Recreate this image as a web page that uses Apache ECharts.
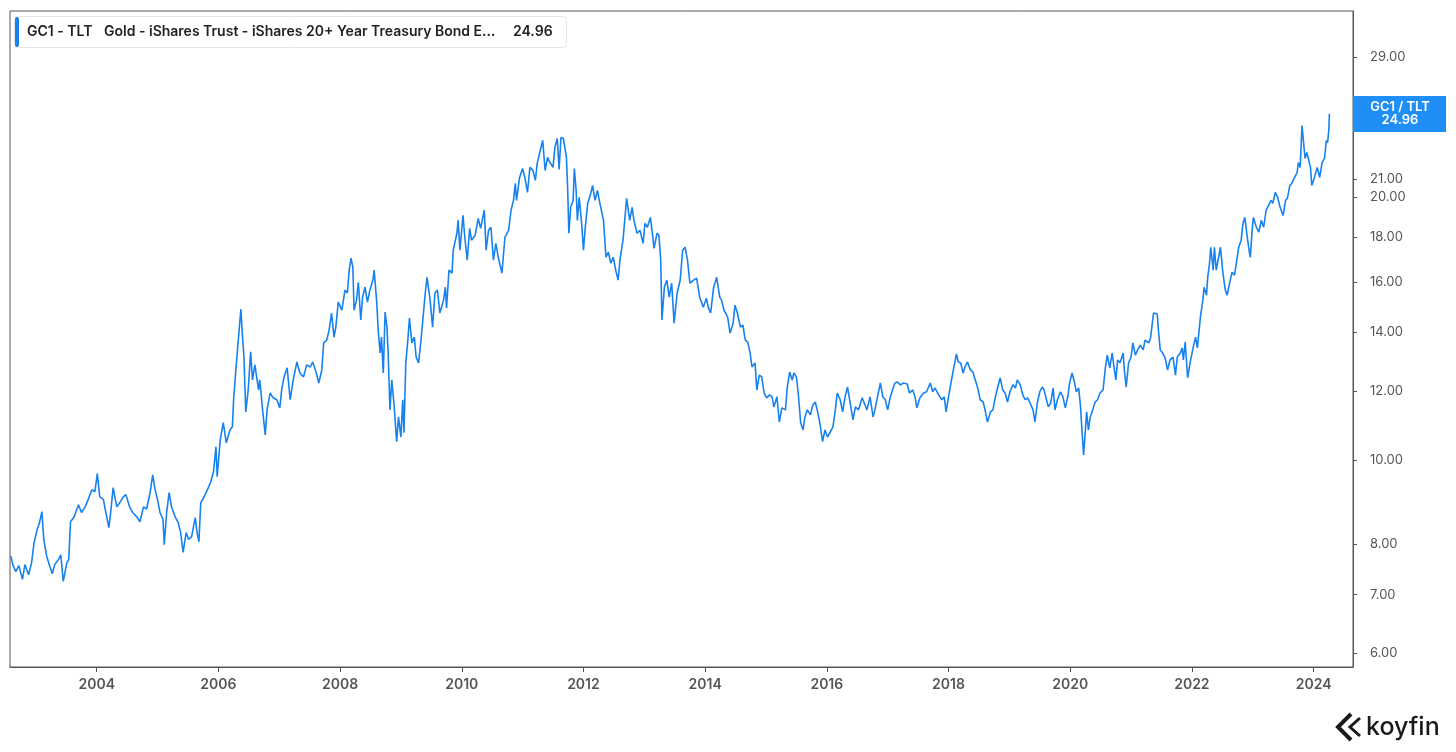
<!DOCTYPE html>
<html><head><meta charset="utf-8">
<script src="https://cdn.jsdelivr.net/npm/echarts@6/dist/echarts.min.js"></script>
<style>html,body{margin:0;padding:0;background:#fff}#c{width:1456px;height:752px}</style>
</head><body><div id="c"></div>
<script>
// decimal years
const dates = [2002.59,2002.62,2002.67,2002.72,2002.78,2002.82,2002.88,2002.93,2002.97,2003.02,2003.06,2003.10,2003.13,2003.18,2003.23,2003.27,2003.31,2003.37,2003.41,2003.45,2003.48,2003.51,2003.54,2003.57,2003.63,2003.70,2003.75,2003.81,2003.86,2003.92,2003.97,
2004.01,2004.05,2004.11,2004.15,2004.20,2004.23,2004.27,2004.33,2004.38,2004.44,2004.48,2004.54,2004.59,2004.66,2004.71,2004.77,2004.82,2004.88,2004.92,2004.96,
2005.00,2005.04,2005.09,2005.11,2005.15,2005.19,2005.23,2005.29,2005.34,2005.38,2005.42,2005.47,2005.51,2005.56,2005.62,2005.65,2005.68,2005.71,2005.76,2005.82,2005.87,2005.92,2005.96,2005.98,
2006.03,2006.08,2006.13,2006.19,2006.23,2006.25,2006.30,2006.37,2006.40,2006.42,2006.45,2006.49,2006.53,2006.56,2006.60,2006.66,2006.68,2006.73,2006.77,2006.80,2006.85,2006.90,2006.96,
2007.01,2007.04,2007.08,2007.13,2007.18,2007.23,2007.29,2007.34,2007.40,2007.45,2007.51,2007.55,2007.61,2007.65,2007.70,2007.73,2007.78,2007.82,2007.86,2007.90,2007.93,2007.97,
2008.03,2008.08,2008.12,2008.15,2008.18,2008.21,2008.23,2008.27,2008.30,2008.34,2008.37,2008.41,2008.45,2008.49,2008.54,2008.56,2008.60,2008.63,2008.66,2008.68,2008.71,2008.74,2008.77,2008.79,2008.82,2008.85,2008.89,2008.93,2008.96,
2009.00,2009.03,2009.05,2009.08,2009.11,2009.14,2009.18,2009.22,2009.25,2009.29,2009.33,2009.36,2009.40,2009.43,2009.48,2009.52,2009.56,2009.60,2009.64,2009.70,2009.73,2009.75,2009.79,2009.84,2009.86,2009.92,2009.94,2009.97,
2010.02,2010.05,2010.09,2010.13,2010.16,2010.22,2010.27,2010.31,2010.37,2010.40,2010.44,2010.48,2010.52,2010.56,2010.60,2010.66,2010.71,2010.77,2010.81,2010.85,2010.88,2010.90,2010.95,
2011.00,2011.04,2011.08,2011.12,2011.17,2011.21,2011.24,2011.29,2011.33,2011.37,2011.41,2011.45,2011.50,2011.53,2011.57,2011.60,2011.63,2011.67,2011.72,2011.74,2011.76,2011.79,2011.83,2011.85,2011.88,2011.90,2011.93,2011.97,
2012.00,2012.03,2012.07,2012.12,2012.15,2012.19,2012.23,2012.27,2012.33,2012.37,2012.41,2012.45,2012.49,2012.53,2012.57,2012.60,2012.65,2012.68,2012.71,2012.76,2012.80,2012.83,2012.88,2012.93,2012.98,
2013.01,2013.05,2013.10,2013.14,2013.16,2013.21,2013.24,2013.27,2013.29,2013.33,2013.37,2013.41,2013.45,2013.49,2013.54,2013.59,2013.63,2013.67,2013.71,2013.75,2013.81,2013.86,2013.91,2013.97,
2014.02,2014.05,2014.09,2014.14,2014.19,2014.24,2014.27,2014.31,2014.37,2014.41,2014.46,2014.49,2014.53,2014.58,2014.62,2014.66,2014.70,2014.74,2014.77,2014.82,2014.85,2014.89,2014.93,2014.97,
2015.01,2015.06,2015.10,2015.13,2015.18,2015.22,2015.26,2015.32,2015.35,2015.39,2015.43,2015.46,2015.50,2015.53,2015.57,2015.61,2015.64,2015.68,2015.73,2015.77,2015.81,2015.85,2015.89,2015.93,2015.97,
2016.01,2016.05,2016.10,2016.14,2016.17,2016.22,2016.26,2016.30,2016.34,2016.37,2016.43,2016.47,2016.52,2016.58,2016.61,2016.66,2016.71,2016.76,2016.79,2016.83,2016.88,2016.92,2016.96,
2017.00,2017.04,2017.09,2017.12,2017.16,2017.21,2017.26,2017.32,2017.36,2017.41,2017.45,2017.48,2017.53,2017.59,2017.64,2017.70,2017.74,2017.78,2017.82,2017.86,2017.89,2017.93,2017.96,
2018.00,2018.04,2018.08,2018.13,2018.16,2018.20,2018.24,2018.27,2018.31,2018.36,2018.40,2018.44,2018.48,2018.52,2018.57,2018.60,2018.64,2018.69,2018.73,2018.77,2018.81,2018.85,2018.89,2018.93,2018.97,
2019.01,2019.06,2019.10,2019.13,2019.18,2019.22,2019.26,2019.30,2019.34,2019.39,2019.42,2019.46,2019.50,2019.54,2019.57,2019.61,2019.64,2019.68,2019.72,2019.75,2019.79,2019.84,2019.88,2019.92,2019.96,2019.99,
2020.03,2020.07,2020.10,2020.14,2020.17,2020.19,2020.22,2020.25,2020.27,2020.30,2020.33,2020.37,2020.41,2020.45,2020.49,2020.54,2020.58,2020.61,2020.65,2020.69,2020.72,2020.75,2020.78,2020.82,2020.87,2020.89,2020.92,2020.96,
2021.00,2021.03,2021.07,2021.11,2021.15,2021.20,2021.23,2021.29,2021.32,2021.37,2021.43,2021.45,2021.48,2021.52,2021.56,2021.60,2021.64,2021.69,2021.73,2021.76,2021.81,2021.84,2021.86,2021.89,2021.93,2021.97,
2022.02,2022.06,2022.09,2022.14,2022.18,2022.20,2022.24,2022.26,2022.29,2022.31,2022.35,2022.37,2022.40,2022.44,2022.47,2022.51,2022.55,2022.58,2022.62,2022.66,2022.70,2022.73,2022.77,2022.81,2022.84,2022.87,2022.91,2022.94,2022.96,2022.99,
2023.01,2023.06,2023.10,2023.14,2023.18,2023.22,2023.26,2023.30,2023.33,2023.37,2023.41,2023.45,2023.50,2023.54,2023.57,2023.61,2023.64,2023.68,2023.73,2023.75,2023.78,2023.81,2023.84,2023.86,2023.89,2023.92,2023.95,2023.97,
2024.01,2024.06,2024.10,2024.14,2024.18,2024.21,2024.23,2024.25,2024.26];

// GC1 / TLT ratio
const gc1Tlt = [7.75,7.58,7.44,7.56,7.29,7.58,7.38,7.62,8.03,8.31,8.47,8.72,8.10,7.74,7.54,7.40,7.58,7.68,7.78,7.25,7.23,7.62,7.68,8.49,8.60,8.88,8.70,8.83,9.00,9.24,9.19,
9.64,9.07,9.00,8.70,8.36,8.70,9.29,8.83,8.93,9.07,9.12,8.83,8.70,8.60,8.49,8.83,8.78,9.19,9.61,9.24,
9.00,8.70,8.54,7.99,8.70,9.17,8.83,8.60,8.47,8.25,7.83,8.25,8.10,8.16,8.58,8.25,8.05,8.93,9.05,9.24,9.41,9.69,10.35,9.56,
10.54,11.03,10.46,10.82,10.91,11.72,13.02,14.89,13.72,13.12,11.35,12.03,13.30,12.35,12.85,12.03,12.35,11.35,10.68,11.41,11.93,11.78,11.72,
11.47,12.03,12.45,12.75,11.72,12.35,12.95,12.58,12.45,12.85,12.78,12.95,12.58,12.25,12.68,13.62,13.72,14.09,14.74,13.83,14.20,15.17,
14.85,15.66,15.54,16.51,17.04,16.64,14.85,15.25,15.99,14.47,15.37,15.78,15.17,15.66,16.08,16.51,15.25,13.98,13.26,13.83,12.58,14.78,14.20,13.26,11.41,12.35,11.50,10.49,11.20,
10.62,11.72,10.74,12.92,13.62,14.54,13.62,13.83,13.12,12.92,13.72,14.47,15.54,16.20,15.25,14.20,15.54,15.66,14.74,15.25,15.78,14.93,16.51,16.38,17.40,18.20,18.83,17.40,
19.08,18.01,16.95,18.44,17.87,18.10,18.93,18.44,19.34,17.40,18.34,18.49,16.95,17.72,17.08,16.38,18.01,18.34,19.34,19.85,20.76,19.85,21.09,
21.60,21.04,20.28,21.66,21.49,20.93,21.89,22.65,23.26,21.49,22.24,21.94,21.66,22.83,23.38,21.54,23.44,23.38,22.24,20.54,18.20,19.49,19.85,21.60,20.38,18.83,20.01,18.68,
17.40,18.49,19.70,20.22,20.65,19.85,20.38,19.70,18.83,17.08,17.31,16.81,17.08,16.51,16.08,16.95,17.87,17.80,19.96,18.83,19.49,18.83,18.20,18.34,17.72,
18.68,18.49,18.98,18.01,17.49,18.20,18.10,16.95,14.47,15.78,16.08,15.37,15.95,14.35,15.54,16.08,17.40,17.54,16.95,15.95,16.08,16.16,15.37,14.97,
15.33,14.97,14.74,15.78,16.20,15.37,15.25,14.85,14.58,13.98,14.35,15.05,14.74,14.20,14.28,13.72,13.65,13.26,12.78,12.92,12.03,12.51,12.45,11.93,
11.78,11.87,11.81,11.50,11.81,11.05,11.47,11.41,12.12,12.61,12.35,12.58,12.45,11.93,11.03,10.82,11.20,11.41,11.26,11.56,11.65,11.35,10.97,10.49,10.82,
10.62,10.74,10.91,11.41,11.93,11.72,11.35,11.81,12.12,11.78,11.11,11.50,11.41,11.78,11.81,11.41,11.81,11.20,11.41,11.78,12.25,11.81,11.72,
11.41,11.78,12.09,12.25,12.28,12.19,12.25,12.22,11.93,12.03,11.81,11.47,11.78,11.93,11.97,12.25,11.97,12.09,11.93,11.81,11.72,11.81,11.35,
11.81,12.25,12.68,13.23,12.95,12.92,12.58,12.78,12.95,12.68,12.61,12.35,12.09,11.72,11.65,11.41,11.05,11.35,11.41,11.81,12.12,12.42,12.03,11.93,11.65,
11.97,12.19,12.09,12.35,12.19,11.87,11.72,11.78,11.62,11.41,11.05,11.62,11.97,12.12,12.03,11.72,11.50,11.62,12.09,11.41,11.72,11.97,11.81,11.47,11.81,12.25,
12.58,12.28,11.97,12.09,11.50,10.91,10.13,10.82,11.35,10.82,11.20,11.41,11.65,11.72,11.93,12.03,12.78,13.19,12.75,13.26,12.78,12.35,13.02,12.92,13.26,12.68,12.12,12.92,
13.12,13.62,13.19,13.37,13.54,13.37,13.72,13.62,13.79,14.74,14.70,14.09,13.37,13.26,13.09,12.68,13.02,13.12,12.51,13.12,13.26,13.44,13.02,13.65,12.42,12.92,
13.44,13.83,13.44,14.58,15.25,15.78,15.45,16.20,16.81,17.54,16.51,17.54,16.51,17.08,17.54,16.38,15.66,15.45,15.95,16.42,16.29,16.81,17.54,17.87,18.68,18.98,18.01,17.40,17.08,18.34,
18.98,18.49,18.25,18.83,18.49,19.34,19.59,19.85,19.70,20.28,20.01,19.49,19.08,19.85,19.96,20.65,20.76,21.04,21.37,21.94,21.66,24.19,24.07,22.18,22.53,22.45,21.66,20.65,
21.04,21.66,21.09,21.94,22.18,23.26,23.13,23.88,24.96];

const xTicks = [2004,2006,2008,2010,2012,2014,2016,2018,2020,2022,2024];
const yTicks = [6,7,8,10,12,14,16,18,20,21,29];
const seriesCode = 'GC1 - TLT';
const seriesName = 'Gold - iShares Trust - iShares 20+ Year Treasury Bond E\u2026';
const lastLabel = 'GC1 / TLT';
const brand = 'koyfin';

const BLUE = '#1782ee';
const FONT = 'Inter, "Noto Sans", sans-serif';
const xMin = 2002.575, xMax = 2024.648;
const yMinLn = 1.7548, yMaxLn = 3.4889;

const lastV = gc1Tlt[gc1Tlt.length - 1];

const chart = echarts.init(document.getElementById('c'), null, {renderer: 'canvas'});
chart.setOption({
  animation: false,
  backgroundColor: '#fff',
  grid: {left: 10, right: 103, top: 11, bottom: 85, show: true, borderColor: '#555', borderWidth: 1},
  xAxis: {
    type: 'value', min: xMin, max: xMax,
    axisLine: {show: true, lineStyle: {color: '#555', width: 1}},
    axisTick: {show: true, customValues: xTicks, length: 5, lineStyle: {color: '#555'}},
    axisLabel: {customValues: xTicks, formatter: v => String(Math.round(v)), color: '#555', fontSize: 14, fontWeight: 600, fontFamily: FONT, margin: 11},
    splitLine: {show: false}
  },
  yAxis: {
    type: 'value', position: 'right', min: yMinLn, max: yMaxLn,
    axisLine: {show: true, lineStyle: {color: '#555', width: 1}},
    axisTick: {show: true, customValues: yTicks.map(Math.log), length: 4, lineStyle: {color: '#555'}},
    axisLabel: {customValues: yTicks.map(Math.log), formatter: v => Math.exp(v).toFixed(2), color: '#555', fontSize: 13, fontFamily: FONT, margin: 17},
    splitLine: {show: false}
  },
  series: [{
    type: 'line',
    data: dates.map((d, i) => [d, Math.log(gc1Tlt[i])]),
    showSymbol: false,
    lineStyle: {color: BLUE, width: 1.6},
    itemStyle: {color: BLUE}
  }]
});

const p = chart.convertToPixel({xAxisIndex: 0, yAxisIndex: 0}, [xMax, Math.log(lastV)]);
const boxX = Math.round(p[0]);
const boxY = Math.round(p[1]);

chart.setOption({
  graphic: [
    {type: 'rect', shape: {x: 14.5, y: 16.5, width: 552, height: 31, r: 4}, style: {fill: '#fff', stroke: '#e4e4e4', lineWidth: 1}, z: 10},
    {type: 'rect', shape: {x: 15, y: 17, width: 4, height: 30, r: 2}, style: {fill: BLUE}, z: 11},
    {type: 'text', x: 27, y: 32, style: {text: seriesCode, fill: '#222', font: '600 14px ' + FONT, verticalAlign: 'middle'}, z: 11},
    {type: 'text', x: 104, y: 32, style: {text: seriesName, fill: '#222', font: '600 14px ' + FONT, verticalAlign: 'middle'}, z: 11},
    {type: 'text', x: 513, y: 32, style: {text: lastV.toFixed(2), fill: '#222', font: '600 14px ' + FONT, verticalAlign: 'middle'}, z: 11},
    {type: 'rect', shape: {x: boxX, y: boxY - 18, width: 93, height: 36}, style: {fill: '#1f8ef7'}, z: 10},
    {type: 'text', x: boxX + 47, y: boxY - 7, style: {text: lastLabel, fill: '#fff', font: '600 13px ' + FONT, align: 'center', verticalAlign: 'middle'}, z: 11},
    {type: 'text', x: boxX + 47, y: boxY + 6, style: {text: lastV.toFixed(2), fill: '#fff', font: '600 13px ' + FONT, align: 'center', verticalAlign: 'middle'}, z: 11},
    {type: 'polyline', shape: {points: [[1351, 714], [1338, 727], [1351, 740]]}, style: {stroke: '#1a1a1a', lineWidth: 4, fill: null, lineJoin: 'miter'}, z: 11},
    {type: 'polyline', shape: {points: [[1360, 718], [1350, 727], [1360, 736]]}, style: {stroke: '#1a1a1a', lineWidth: 3, fill: null, lineJoin: 'miter'}, z: 11},
    {type: 'text', x: 1366, y: 727, style: {text: brand, fill: '#1a1a1a', font: '500 25px ' + FONT, verticalAlign: 'middle'}, z: 11}
  ]
});
</script>
</body></html>
